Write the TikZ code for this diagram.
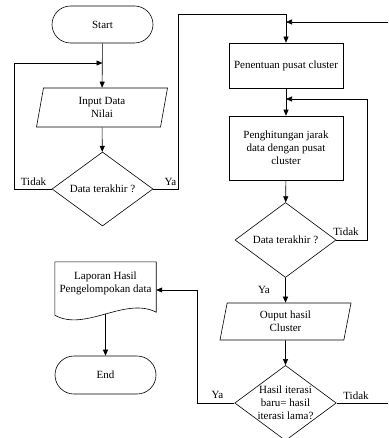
\documentclass[tikz,border=0pt]{standalone}
\usepackage{fontspec}
\setmainfont{Liberation Serif}
\usetikzlibrary{shapes.geometric,shapes.misc,arrows.meta,calc}
\begin{document}
\begin{tikzpicture}[x=1pt,y=-1pt,
  font=\fontsize{11}{13}\selectfont,
  every node/.style={align=center, inner sep=0pt},
  flow/.style={draw, line width=0.6pt},
  terminal/.style={flow, rounded rectangle, minimum width=101pt, minimum height=37pt},
  process/.style={flow, rectangle, minimum width=114pt},
  io/.style={flow, trapezium, trapezium left angle=71, trapezium right angle=109,
    trapezium stretches body, minimum width=131pt},
  decision/.style={flow, diamond, minimum width=101pt, aspect=1.35},
  arr/.style={line width=0.6pt, -{Triangle[length=6pt,width=5pt]}},
  tag/.style={anchor=center}
]
\useasboundingbox (0,0) rectangle (388,438);
\clip (0,0) rectangle (388,438);

% left column
\node[terminal] (start) at (102.5,24.5) {Start};
\node[io, minimum height=39pt] (input) at (102,107.5) {Input Data\\Nilai};
\node[decision, minimum height=74pt] (dec1) at (102.5,189) {Data terakhir ?};

% right column
\node[process, minimum height=45pt] (pen) at (286,65.5) {Penentuan pusat cluster};
\node[process, minimum height=64pt] (hit) at (286,148) {Penghitungan jarak\\data dengan pusat\\cluster};
\node[decision, minimum height=75pt] (dec2) at (285.5,240) {Data terakhir ?};
\node[io, minimum height=37pt] (out) at (285.5,321.5) {Ouput hasil\\Cluster};
\node[decision, minimum height=72pt] (dec3) at (285.5,403) {Hasil iterasi\\baru= hasil\\iterasi lama?};

% report document and end
\node[minimum width=101pt, minimum height=42pt] (lap) at (105.5,283) {Laporan Hasil\\Pengelompokan data};
\draw[line width=0.6pt] (lap.north west) -- (lap.north east) -- ($(lap.south east)+(0,8)$)
  .. controls ($(lap.south)+(19.5,-8)$) and ($(lap.south)+(-20.5,28)$) .. ($(lap.south west)+(0,11)$)
  -- cycle;
\coordinate (lapb) at ($(lap.south)+(0,10)$);
\node[terminal, minimum height=38pt] (end) at (105.5,375) {End};

% junctions and bends
\coordinate (j1) at (102.5,63);
\coordinate (l1) at (14,63);
\coordinate (r1) at (178,14);
\coordinate (j2) at (286,22);
\coordinate (j3) at (286,99);
\coordinate (r2) at (367,99);
\coordinate (r3) at (197,290);
\coordinate (r4) at (396,22);

% connectors
\draw[arr] (start) -- (input);
\draw[arr] (input) -- (dec1);
\draw[arr] (dec1.west) -| (l1) -- (j1);
\draw[arr] (dec1.east) -| (r1) -| (pen.north);
\draw[arr] (pen) -- (hit);
\draw[arr] (hit) -- (dec2);
\draw[arr] (dec2.east) -| (r2) -- (j3);
\draw[arr] (dec2) -- (out);
\draw[arr] (out) -- (dec3);
\draw[arr] (dec3.west) -| (r3) -- (r3 -| lap.east);
\draw[arr] (dec3.east) -| (r4) -- (j2);
\draw[arr] (lapb) -- (end);

% branch labels
\node[tag] (t1) at (33.5,182) {Tidak};
\node[tag] (y1) at (170.5,182) {Ya};
\node[tag] (t2) at (346,232) {Tidak};
\node[tag] (y2) at (264,290) {Ya};
\node[tag] (y3) at (217.5,395) {Ya};
\node[tag] (t3) at (356,396) {Tidak};
\end{tikzpicture}
\end{document}
